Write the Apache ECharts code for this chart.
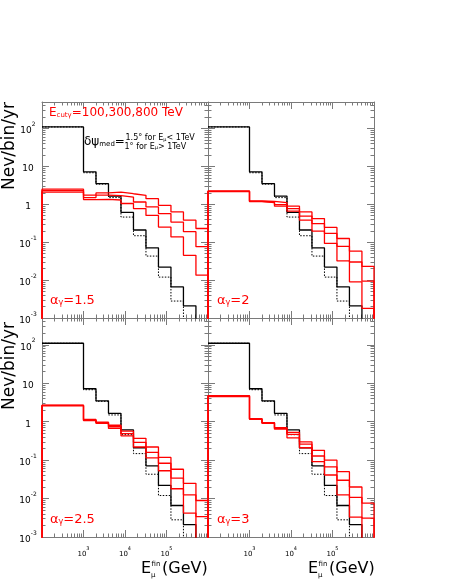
<!DOCTYPE html>
<html><head><meta charset="utf-8">
<script src="https://cdn.jsdelivr.net/npm/echarts@6/dist/echarts.min.js"></script>
<style>html,body{margin:0;padding:0;background:#fff}#c{width:449px;height:581px}</style>
</head><body><div id="c"></div>
<script>
// ---------------- data ----------------
const binEdges = [100, 1000, 2000, 4000, 8000, 16000, 32000, 64000, 128000, 256000, 512000, 1000000];
const xTickMajor = [1e3, 1e4, 1e5];
const yTickMajor = [1e-3, 1e-2, 1e-1, 1, 10, 100];
// atmospheric background (same in every panel); null = below the plotted range
const atmSolid  = [110, 7.2, 3.5, 1.65, 0.61, 0.21, 0.071, 0.022, 0.0066, 0.0021, null];
const atmDotted = [110, 6.8, 3.4, 1.5, 0.46, 0.148, 0.043, 0.012, 0.0028, null, null];
// signal, E_cut = 800, 300, 100 TeV
const a15_800 = [2.5, 1.75, 2.0, 2.1, 1.9, 1.73, 1.41, 0.94, 0.63, 0.38, 0.23];
const a15_300 = [2.3, 1.5, 1.75, 1.7, 1.55, 1.15, 0.85, 0.57, 0.34, 0.19, 0.076];
const a15_100 = [2.1, 1.33, 1.35, 1.3, 1.05, 0.77, 0.51, 0.25, 0.138, 0.045, 0.0135];
const a20_800 = [2.25, 1.22, 1.2, 1.1, 0.89, 0.63, 0.42, 0.245, 0.125, 0.058, 0.023];
const a20_300 = [2.2, 1.2, 1.15, 0.98, 0.77, 0.49, 0.31, 0.17, 0.078, 0.030, 0.0094];
const a20_100 = [2.15, 1.17, 1.1, 0.89, 0.66, 0.38, 0.195, 0.093, 0.032, 0.009, 0.0018];
const a25_800 = [2.7, 1.15, 0.97, 0.81, 0.57, 0.37, 0.22, 0.118, 0.058, 0.025, 0.0089];
const a25_300 = [2.65, 1.1, 0.94, 0.74, 0.49, 0.29, 0.16, 0.083, 0.034, 0.0125, 0.0034];
const a25_100 = [2.6, 1.07, 0.91, 0.67, 0.43, 0.22, 0.115, 0.053, 0.018, 0.0042, null];
const a30_800 = [4.8, 1.2, 0.95, 0.70, 0.53, 0.30, 0.18, 0.10, 0.050, 0.020, 0.0076];
const a30_300 = [4.65, 1.18, 0.93, 0.67, 0.47, 0.26, 0.128, 0.067, 0.030, 0.0107, 0.0031];
const a30_100 = [4.5, 1.16, 0.91, 0.64, 0.38, 0.21, 0.091, 0.041, 0.0125, 0.0033, null];
const panelLabels = ['1.5', '2', '2.5', '3'];
const panelSignals = [[a15_800, a15_300, a15_100], [a20_800, a20_300, a20_100],
                      [a25_800, a25_300, a25_100], [a30_800, a30_300, a30_100]];

// ---------------- layout / style ----------------
const FONT = 'DejaVu Sans';
const FRAME = '#7a7a7a';
const RED = '#ff0000';
const gridRects = [[42, 102, 166, 216], [208, 102, 166, 216], [42, 318, 166, 219], [208, 318, 166, 219]];
const X_MIN = 100, X_MAX = 1e6, Y_MIN = 1e-3, Y_MAX = 500;

function minors(lo, hi) {
  const out = [];
  for (let d = lo; d < hi * 1.0001; d *= 10) {
    for (let k = 2; k <= 9; k++) { const v = Number((k * d).toPrecision(6)); if (v < hi * 1.0001) out.push(v); }
  }
  return out;
}
const xTickMinor = minors(100, 1e6);
const yTickMinor = minors(1e-3, Y_MAX);

function powLabel(v) {
  const e = Math.round(Math.log10(v));
  if (e === 0) return '{n|1}';
  if (e === 1) return '{n|10}';
  return '{n|10}{s|' + e + '}';
}
function labelRich(fs, sfs) {
  return {
    n: { fontSize: fs, fontFamily: FONT, color: '#000', lineHeight: fs + 5, verticalAlign: 'bottom' },
    s: { fontSize: sfs, fontFamily: FONT, color: '#000', lineHeight: fs + 5, verticalAlign: 'top' }
  };
}

const grids = [], xAxes = [], yAxes = [], series = [];
function steps(vals, fromFloor) {
  const floor = 1e-7;
  const pts = fromFloor ? [[binEdges[0], floor]] : [];
  vals.forEach((v, i) => {
    const y = v == null ? floor : v;
    pts.push([binEdges[i], y], [binEdges[i + 1], y]);
  });
  pts.push([binEdges[binEdges.length - 1], floor]);
  return pts;
}

function addAxes(g, ticksX, ticksY, len, main, labelsX, labelsY, showTop, showLeft) {
  const common = { type: 'log', logBase: 10, gridIndex: g, splitLine: { show: false },
    minorTick: { show: false }, minorSplitLine: { show: false }, axisPointer: { show: false }, silent: true };
  ['bottom', 'top'].forEach(pos => {
    const showLab = labelsX && pos === 'bottom';
    const lineOn = main && (pos === 'bottom' || showTop);
    xAxes.push(Object.assign({}, common, {
      position: pos, min: X_MIN, max: X_MAX,
      axisLine: { show: lineOn, onZero: false, lineStyle: { color: FRAME, width: 1 } },
      axisTick: { show: true, inside: true, length: len, customValues: ticksX, lineStyle: { color: FRAME, width: 1 } },
      axisLabel: showLab ? { show: true, customValues: xTickMajor, margin: 9, formatter: powLabel, rich: labelRich(7, 5) } : { show: false }
    }));
  });
  ['left', 'right'].forEach(pos => {
    const showLab = labelsY && pos === 'left';
    const lineOn = main && (pos === 'right' || showLeft);
    yAxes.push(Object.assign({}, common, {
      position: pos, min: Y_MIN, max: Y_MAX,
      axisLine: { show: lineOn, onZero: false, lineStyle: { color: FRAME, width: 1 } },
      axisTick: { show: true, inside: true, length: len, customValues: ticksY, lineStyle: { color: FRAME, width: 1 } },
      axisLabel: showLab ? { show: true, customValues: yTickMajor, margin: 14, align: 'center', formatter: powLabel, rich: labelRich(9, 6) } : { show: false }
    }));
  });
}

for (let g = 0; g < 4; g++) {
  const r = gridRects[g];
  grids.push({ left: r[0], top: r[1], width: r[2], height: r[3], containLabel: false });
  addAxes(g, xTickMajor, yTickMajor, 7, true, g >= 2, g % 2 === 0, g < 2, g % 2 === 0);
}
for (let g = 0; g < 4; g++) {
  const r = gridRects[g];
  grids.push({ left: r[0], top: r[1], width: r[2], height: r[3], containLabel: false });
  addAxes(g + 4, xTickMinor, yTickMinor, 3.5, false, false, false, false, false);
}

for (let g = 0; g < 4; g++) {
  const base = { type: 'line', xAxisIndex: 2 * g, yAxisIndex: 2 * g, showSymbol: false, symbol: 'none',
    clip: true, animation: false, silent: true, z: 3 };
  series.push(Object.assign({}, base, { name: 'atm dotted ' + g, data: steps(atmDotted, false),
    lineStyle: { color: '#000', width: 1, type: [1.5, 1.5] } }));
  series.push(Object.assign({}, base, { name: 'atm ' + g, data: steps(atmSolid, false),
    lineStyle: { color: '#000', width: 1.3 } }));
  panelSignals[g].forEach((arr, k) => {
    series.push(Object.assign({}, base, { name: 'sig ' + g + '-' + k, data: steps(arr, true),
      lineStyle: { color: RED, width: 1.3 } }));
  });
}

// ---------------- texts ----------------
const graphic = [];
function txt(x, y, text, rich, extra) {
  graphic.push(Object.assign({ type: 'text', x: x, y: y, z: 10, silent: true,
    style: { text: text, rich: rich, verticalAlign: 'middle', align: 'left' } }, extra || {}));
}
// y-axis titles
[146, 366].forEach(cy => {
  graphic.push({ type: 'text', x: 10, y: cy, rotation: Math.PI / 2, z: 10, silent: true,
    style: { text: 'Nev/bin/yr', fill: '#000', font: '17px "' + FONT + '"', align: 'center', verticalAlign: 'middle' } });
});
// x-axis titles
[141, 308].forEach(x0 => {
  graphic.push({ type: 'text', x: x0, y: 569, z: 10, silent: true,
    style: { text: 'E', fill: '#000', font: '16px "' + FONT + '"', align: 'left', verticalAlign: 'middle' } });
  graphic.push({ type: 'text', x: x0 + 10.5, y: 564, z: 10, silent: true,
    style: { text: 'fin', fill: '#000', font: '7px "' + FONT + '"', align: 'left', verticalAlign: 'middle' } });
  graphic.push({ type: 'text', x: x0 + 10, y: 575, z: 10, silent: true,
    style: { text: 'μ', fill: '#000', font: '7px "' + FONT + '"', align: 'left', verticalAlign: 'middle' } });
  graphic.push({ type: 'text', x: x0 + 21, y: 569, z: 10, silent: true,
    style: { text: '(GeV)', fill: '#000', font: '16px "' + FONT + '"', align: 'left', verticalAlign: 'middle' } });
});
// E_cut legend text
const redRich = {
  a: { fontSize: 12, fontFamily: FONT, fill: RED, color: RED, lineHeight: 16, verticalAlign: 'bottom' },
  b: { fontSize: 7, fontFamily: FONT, fill: RED, color: RED, lineHeight: 12, verticalAlign: 'bottom' }
};
txt(49, 111, '{a|E}{b|cutγ}{a|=100,300,800 TeV}', redRich);
// delta psi annotation
const blkRich = {
  a: { fontSize: 12, fontFamily: FONT, fill: '#000', color: '#000', lineHeight: 16, verticalAlign: 'bottom' },
  b: { fontSize: 7, fontFamily: FONT, fill: '#000', color: '#000', lineHeight: 12, verticalAlign: 'bottom' }
};
txt(84, 140, '{a|δψ}{b|med}{a|=}', blkRich);
const smallRich = {
  a: { fontSize: 8, fontFamily: FONT, fill: '#000', color: '#000', lineHeight: 10, verticalAlign: 'bottom' },
  b: { fontSize: 5, fontFamily: FONT, fill: '#000', color: '#000', lineHeight: 8, verticalAlign: 'bottom' }
};
txt(125.5, 137, '{a|1.5° for E}{b|μ}{a|< 1TeV}', smallRich);
txt(124.5, 145.5, '{a|1° for E}{b|μ}{a|> 1TeV}', smallRich);
// alpha labels
const alphaRich = {
  a: { fontSize: 13, fontFamily: FONT, fill: RED, color: RED, lineHeight: 18, verticalAlign: 'bottom' },
  b: { fontSize: 8, fontFamily: FONT, fill: RED, color: RED, lineHeight: 13, verticalAlign: 'bottom' }
};
const alphaPos = [[50, 298], [217, 298], [50, 517], [217, 517]];
panelLabels.forEach((lab, i) => {
  txt(alphaPos[i][0], alphaPos[i][1], '{a|α}{b|γ}{a|=' + lab + '}', alphaRich);
});

const chart = echarts.init(document.getElementById('c'), null, { renderer: 'canvas' });
chart.setOption({
  backgroundColor: '#fff',
  animation: false,
  grid: grids,
  xAxis: xAxes,
  yAxis: yAxes,
  series: series,
  graphic: graphic
});
</script>
</body></html>
